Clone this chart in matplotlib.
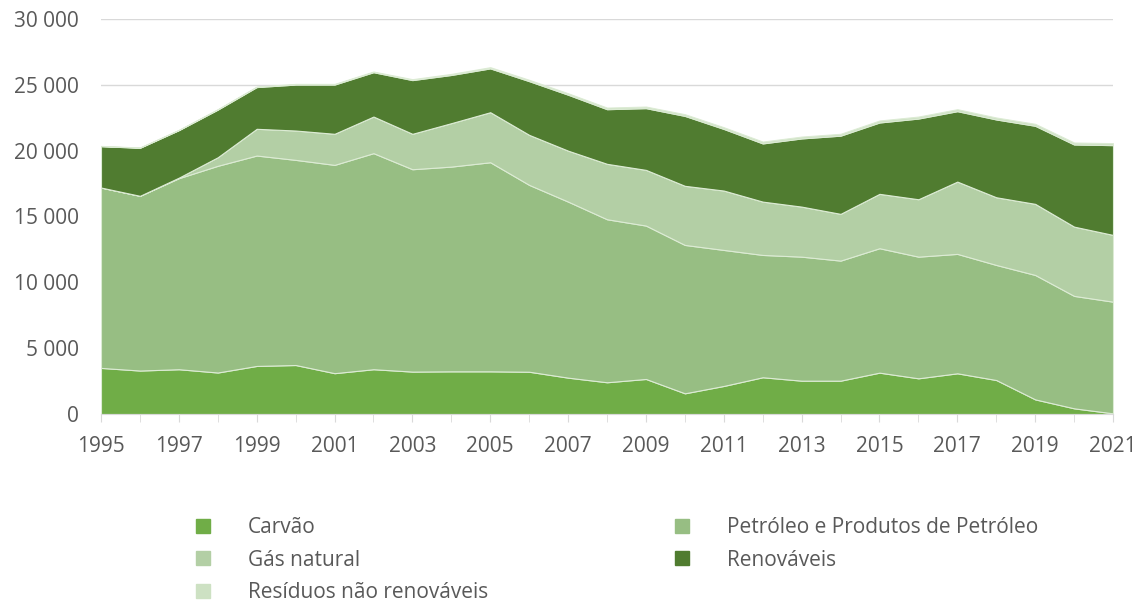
import numpy as np
import matplotlib
matplotlib.use("Agg")
import matplotlib.pyplot as plt
from matplotlib.lines import Line2D
from matplotlib.ticker import FuncFormatter

years = list(range(1995, 2022))

carvao = [3500, 3300, 3400, 3150, 3650, 3720, 3100, 3400, 3220, 3240, 3240, 3210, 2760,
          2410, 2660, 1570, 2130, 2790, 2530, 2530, 3140, 2710, 3090, 2580, 1110, 430, 50]
petroleo = [13700, 13270, 14510, 15700, 15980, 15580, 15820, 16410, 15370, 15550, 15880, 14190, 13370,
            12380, 11650, 11270, 10330, 9290, 9420, 9120, 9450, 9240, 9070, 8740, 9450, 8540, 8480]
gas = [0, 0, 40, 650, 2030, 2230, 2360, 2780, 2690, 3300, 3800, 3800, 3870,
       4210, 4230, 4490, 4510, 4050, 3800, 3550, 4130, 4360, 5490, 5140, 5400, 5260, 5070]
renovaveis = [3140, 3650, 3610, 3620, 3170, 3490, 3740, 3370, 4080, 3660, 3330, 4080, 4250,
              4150, 4690, 5310, 4680, 4420, 5180, 5940, 5420, 6130, 5350, 5910, 5930, 6240, 6820]
residuos = [20, 20, 20, 30, 40, 50, 50, 50, 70, 80, 90, 100, 110,
            120, 120, 130, 130, 140, 140, 140, 150, 150, 150, 150, 150, 150, 150]

labels = ["Carvão", "Petróleo e Produtos de Petróleo", "Gás natural", "Renováveis",
          "Resíduos não renováveis"]
colors = ["#70AD47", "#97BE83", "#B3CFA5", "#507C30", "#CDE1C3"]

plt.rcParams['font.family'] = ['Open Sans', 'DejaVu Sans']
txt = "#595959"

fig = plt.figure(figsize=(11.45, 6.03), dpi=100)
ax = fig.add_axes([101 / 1145, 1 - 414 / 603, (1113 - 101) / 1145, (414 - 19) / 603])

ax.stackplot(years, carvao, petroleo, gas, renovaveis, residuos, colors=colors,
             edgecolor="#DCEBD4", linewidth=0.8, zorder=2)

ax.set_xlim(1995, 2021)
ax.set_ylim(0, 30000)
ax.set_yticks(range(0, 30001, 5000))
ax.yaxis.set_major_formatter(FuncFormatter(lambda v, p: f"{int(v):,}".replace(",", " ")))
ax.set_xticks(range(1995, 2022, 2))
ax.set_xticks(years, minor=True)
ax.grid(axis="y", color="#D9D9D9", linewidth=1, zorder=0)

for s in ["top", "right", "left"]:
    ax.spines[s].set_visible(False)
ax.spines["bottom"].set_color("#D9D9D9")
ax.spines["bottom"].set_zorder(3)
ax.tick_params(axis="y", length=0, labelsize=15, labelcolor=txt, pad=16)
ax.tick_params(axis="x", which="both", length=6, color="#D9D9D9", labelsize=15, labelcolor=txt, pad=10)

handles = [Line2D([], [], marker="s", linestyle="none", markersize=10,
                  markerfacecolor=c, markeredgecolor=c) for c in colors]
order = [0, 2, 4, 1, 3]
fig.legend([handles[i] for i in order], [labels[i] for i in order], ncol=2,
           loc="upper left", bbox_to_anchor=(196 / 1145, 1 - 517 / 603), frameon=False,
           fontsize=15, labelcolor=txt, handlelength=0.7, handletextpad=1.8,
           columnspacing=8.95, labelspacing=0.56, borderpad=0, borderaxespad=0)

fig.savefig("out.png", dpi=100)
